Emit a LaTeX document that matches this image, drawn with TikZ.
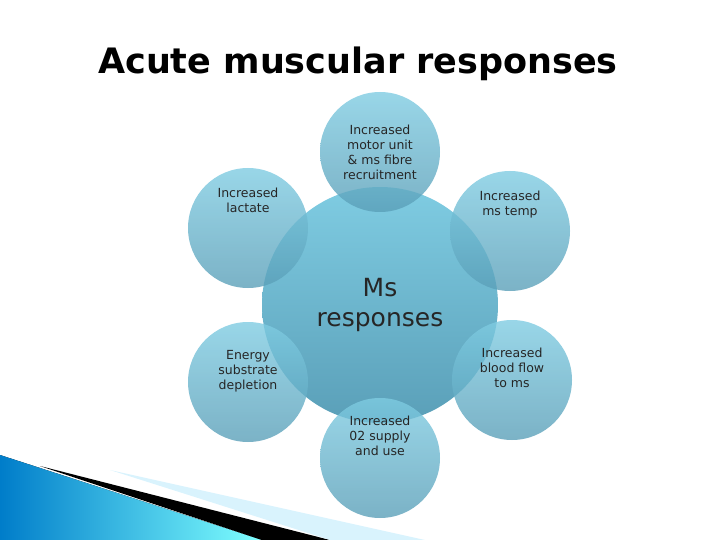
\documentclass[tikz,border=0pt]{standalone}
\usepackage{fontspec}
\setmainfont{DejaVu Sans}
\begin{document}
\begin{tikzpicture}[x=1pt,y=-1pt,
  small/.style={circle,minimum size=120pt,inner sep=0pt,top color=cTop,bottom color=cBot,opacity=0.8,text opacity=1,align=center,font=\fontsize{12.5}{15}\selectfont,text=black!85},
  big/.style={circle,minimum size=236pt,inner sep=0pt,top color=cTop,bottom color=cBot,align=center,font=\fontsize{25}{30}\selectfont,text=black!85}]
\definecolor{cTop}{HTML}{7FCCE2}
\definecolor{cBot}{HTML}{5A9FB8}
\useasboundingbox (0,0) rectangle (720,540);
% bottom-left decoration
\fill[left color=black!30!cyan!70!blue, right color=cyan!50!white] (0,455) -- (0,540) -- (262,540) -- cycle;
\fill[black] (40,466) -- (262,540) -- (330,540) -- cycle;
\fill[cyan!15!white] (110,470) -- (330,540) -- (425,540) -- cycle;
\node (title) at (358,64) {\fontsize{35}{40}\selectfont\bfseries Acute muscular responses};
\node[big] (c) at (380,305) {Ms\\responses};
\node[small] (t) at (380,152) {Increased\\motor unit\\\& ms fibre\\recruitment};
\node[small] (lt) at (248,228) {Increased\\lactate\\[40pt]};
\node[small] (rt) at (510,231) {Increased\\ms temp\\[40pt]};
\node[small] (lb) at (248,382) {Energy\\substrate\\depletion\\[10pt]};
\node[small] (rb) at (512,380) {Increased\\blood flow\\to ms\\[10pt]};
\node[small] (b) at (380,458) {Increased\\02 supply\\and use\\[30pt]};
\end{tikzpicture}
\end{document}
